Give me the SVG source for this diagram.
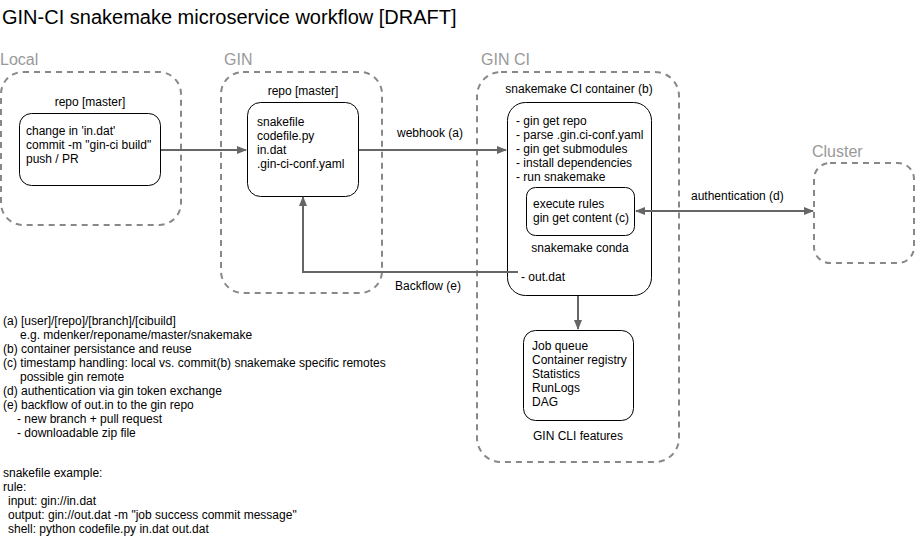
<svg xmlns="http://www.w3.org/2000/svg" width="916" height="538" viewBox="0 0 916 538">
<defs>
<style>
text{font-family:"Liberation Sans",Arial,sans-serif;font-size:12px;fill:#000}
.title{font-size:20px}
.grp{font-size:16px;fill:#999}
.dash{fill:none;stroke:#888;stroke-width:2;stroke-dasharray:6 5}
.box{fill:#fff;stroke:#000;stroke-width:1}
.conn{fill:none;stroke:#666;stroke-width:2}
.mid{text-anchor:middle}
</style>
<marker id="ah" viewBox="0 0 10 10" refX="9" refY="5" markerWidth="5" markerHeight="5" orient="auto-start-reverse" markerUnits="strokeWidth">
<path d="M0,1 L10,5 L0,9 Z" fill="#666"/>
</marker>
</defs>
<rect width="916" height="538" fill="#fff"/>
<text class="title" x="2" y="24">GIN-CI snakemake microservice workflow [DRAFT]</text>

<g id="local">
<text class="grp" x="0" y="65">Local</text>
<rect class="dash" x="1" y="72" width="180" height="153" rx="22"/>
</g>
<g id="gin">
<text class="grp" x="224" y="65">GIN</text>
<rect class="dash" x="221" y="72" width="161" height="221" rx="22"/>
</g>
<g id="ginci">
<text class="grp" x="481" y="65">GIN CI</text>
<rect class="dash" x="477" y="72" width="202" height="390" rx="24"/>
</g>
<g id="cluster">
<text class="grp" x="812" y="157">Cluster</text>
<rect class="dash" x="814" y="163" width="100" height="100" rx="16"/>
</g>

<g id="local-repo">
<text class="mid" x="90" y="106">repo [master]</text>
<rect class="box" x="19.5" y="113.5" width="141" height="72" rx="12"/>
<text x="26" y="135">change in 'in.dat'</text>
<text x="26" y="149">commit -m "gin-ci build"</text>
<text x="26" y="163">push / PR</text>
</g>

<g id="gin-repo">
<text class="mid" x="303" y="95">repo [master]</text>
<rect class="box" x="247.5" y="102.5" width="111" height="94" rx="13"/>
<text x="257" y="126">snakefile</text>
<text x="257" y="140">codefile.py</text>
<text x="257" y="154">in.dat</text>
<text x="257" y="168">.gin-ci-conf.yaml</text>
</g>

<g id="container">
<text class="mid" x="579" y="93">snakemake CI container (b)</text>
<rect class="box" x="507.5" y="102.5" width="144" height="193" rx="18"/>
<text x="516" y="125">- gin get repo</text>
<text x="516" y="139">- parse .gin.ci-conf.yaml</text>
<text x="516" y="153">- gin get submodules</text>
<text x="516" y="167">- install dependencies</text>
<text x="516" y="181">- run snakemake</text>
<text class="mid" x="580" y="252">snakemake conda</text>
<text x="521" y="281">- out.dat</text>
</g>

<g id="conda">
<rect class="box" x="526.5" y="187.5" width="108" height="48" rx="9"/>
<text x="533" y="208">execute rules</text>
<text x="533" y="222">gin get content (c)</text>
</g>

<g id="features">
<rect class="box" x="523.5" y="330.5" width="110" height="90" rx="12"/>
<text x="532" y="350">Job queue</text>
<text x="532" y="364">Container registry</text>
<text x="532" y="378">Statistics</text>
<text x="532" y="392">RunLogs</text>
<text x="532" y="406">DAG</text>
<text class="mid" x="578" y="440">GIN CLI features</text>
</g>

<g id="connectors">
<path class="conn" d="M161,150 H246" marker-end="url(#ah)"/>
<path class="conn" d="M359,150 H506" marker-end="url(#ah)"/>
<path class="conn" d="M518,272 H303 V197" marker-end="url(#ah)"/>
<path class="conn" d="M636,211 H813" marker-start="url(#ah)" marker-end="url(#ah)"/>
<path class="conn" d="M578,296 V329" marker-end="url(#ah)"/>
<text x="397" y="137">webhook (a)</text>
<text x="395" y="290">Backflow (e)</text>
<text x="691" y="200">authentication (d)</text>
</g>

<g id="notes">
<text x="3" y="325">(a) [user]/[repo]/[branch]/[cibuild]</text>
<text x="20" y="339">e.g. mdenker/reponame/master/snakemake</text>
<text x="3" y="353">(b) container persistance and reuse</text>
<text x="3" y="367">(c) timestamp handling: local vs. commit(b) snakemake specific remotes</text>
<text x="20" y="381">possible gin remote</text>
<text x="3" y="395">(d) authentication via gin token exchange</text>
<text x="3" y="409">(e) backflow of out.in to the gin repo</text>
<text x="17" y="423">- new branch + pull request</text>
<text x="17" y="437">- downloadable zip file</text>
<text x="3" y="477">snakefile example:</text>
<text x="3" y="491">rule:</text>
<text x="8" y="505">input: gin://in.dat</text>
<text x="8" y="519">output: gin://out.dat -m "job success commit message"</text>
<text x="8" y="533">shell: python codefile.py in.dat out.dat</text>
</g>
</svg>
